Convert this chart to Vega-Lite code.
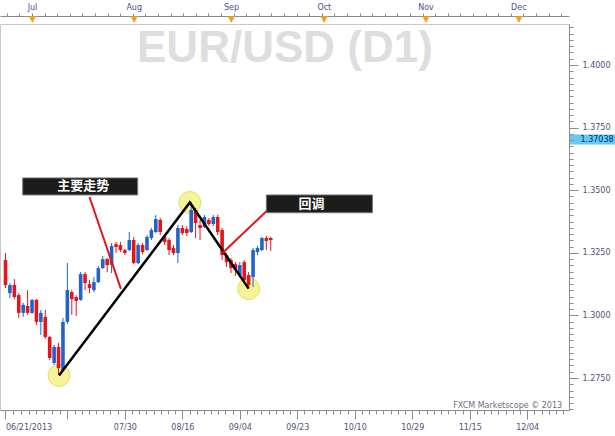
{
  "$schema": "https://vega.github.io/schema/vega-lite/v6.json",
  "width": 569,
  "height": 386,
  "autosize": {"type": "none"},
  "padding": {"left": 0, "top": 24, "right": 46, "bottom": 26},
  "background": "white",
  "view": {"stroke": "#c8c8c8", "strokeWidth": 1},
  "config": {"axis": {"labelFont": "DejaVu Sans", "grid": false, "title": null, "labelOverlap": false}},
  "datasets": {
    "candles": [
      {"d":"2013-06-21","i":0,"o":1.3221,"h":1.3249,"l":1.3109,"c":1.3121},
      {"d":"2013-06-24","i":1,"o":1.3089,"h":1.3129,"l":1.3069,"c":1.3121},
      {"d":"2013-06-25","i":2,"o":1.3121,"h":1.3145,"l":1.3065,"c":1.3073},
      {"d":"2013-06-26","i":3,"o":1.3081,"h":1.3089,"l":1.2990,"c":1.3010},
      {"d":"2013-06-27","i":4,"o":1.3010,"h":1.3050,"l":1.2994,"c":1.3042},
      {"d":"2013-06-28","i":5,"o":1.3038,"h":1.3101,"l":1.3002,"c":1.3010},
      {"d":"2013-07-01","i":6,"o":1.3010,"h":1.3065,"l":1.3006,"c":1.3062},
      {"d":"2013-07-02","i":7,"o":1.3062,"h":1.3065,"l":1.2962,"c":1.2974},
      {"d":"2013-07-03","i":8,"o":1.2974,"h":1.3022,"l":1.2922,"c":1.3010},
      {"d":"2013-07-04","i":9,"o":1.2994,"h":1.3022,"l":1.2906,"c":1.2914},
      {"d":"2013-07-05","i":10,"o":1.2914,"h":1.2918,"l":1.2822,"c":1.2830},
      {"d":"2013-07-08","i":11,"o":1.2810,"h":1.2882,"l":1.2802,"c":1.2874},
      {"d":"2013-07-09","i":12,"o":1.2874,"h":1.2890,"l":1.2762,"c":1.2790},
      {"d":"2013-07-10","i":13,"o":1.2782,"h":1.2990,"l":1.2774,"c":1.2974},
      {"d":"2013-07-11","i":14,"o":1.2974,"h":1.3209,"l":1.2966,"c":1.3101},
      {"d":"2013-07-12","i":15,"o":1.3093,"h":1.3101,"l":1.3002,"c":1.3065},
      {"d":"2013-07-15","i":16,"o":1.3073,"h":1.3081,"l":1.2998,"c":1.3058},
      {"d":"2013-07-16","i":17,"o":1.3062,"h":1.3173,"l":1.3058,"c":1.3165},
      {"d":"2013-07-17","i":18,"o":1.3165,"h":1.3173,"l":1.3101,"c":1.3129},
      {"d":"2013-07-18","i":19,"o":1.3125,"h":1.3141,"l":1.3089,"c":1.3109},
      {"d":"2013-07-19","i":20,"o":1.3101,"h":1.3153,"l":1.3093,"c":1.3133},
      {"d":"2013-07-22","i":21,"o":1.3133,"h":1.3197,"l":1.3129,"c":1.3189},
      {"d":"2013-07-23","i":22,"o":1.3189,"h":1.3237,"l":1.3185,"c":1.3225},
      {"d":"2013-07-24","i":23,"o":1.3225,"h":1.3229,"l":1.3173,"c":1.3201},
      {"d":"2013-07-25","i":24,"o":1.3201,"h":1.3289,"l":1.3169,"c":1.3277},
      {"d":"2013-07-26","i":25,"o":1.3285,"h":1.3293,"l":1.3249,"c":1.3273},
      {"d":"2013-07-29","i":26,"o":1.3281,"h":1.3293,"l":1.3253,"c":1.3261},
      {"d":"2013-07-30","i":27,"o":1.3261,"h":1.3265,"l":1.3241,"c":1.3249},
      {"d":"2013-07-31","i":28,"o":1.3261,"h":1.3333,"l":1.3257,"c":1.3301},
      {"d":"2013-08-01","i":29,"o":1.3301,"h":1.3313,"l":1.3205,"c":1.3209},
      {"d":"2013-08-02","i":30,"o":1.3209,"h":1.3289,"l":1.3205,"c":1.3281},
      {"d":"2013-08-05","i":31,"o":1.3281,"h":1.3289,"l":1.3245,"c":1.3253},
      {"d":"2013-08-06","i":32,"o":1.3261,"h":1.3321,"l":1.3257,"c":1.3313},
      {"d":"2013-08-07","i":33,"o":1.3309,"h":1.3349,"l":1.3301,"c":1.3341},
      {"d":"2013-08-08","i":34,"o":1.3333,"h":1.3401,"l":1.3329,"c":1.3385},
      {"d":"2013-08-09","i":35,"o":1.3381,"h":1.3389,"l":1.3321,"c":1.3333},
      {"d":"2013-08-12","i":36,"o":1.3313,"h":1.3321,"l":1.3281,"c":1.3293},
      {"d":"2013-08-13","i":37,"o":1.3301,"h":1.3309,"l":1.3241,"c":1.3261},
      {"d":"2013-08-14","i":38,"o":1.3269,"h":1.3281,"l":1.3241,"c":1.3249},
      {"d":"2013-08-15","i":39,"o":1.3249,"h":1.3361,"l":1.3209,"c":1.3349},
      {"d":"2013-08-16","i":40,"o":1.3349,"h":1.3361,"l":1.3321,"c":1.3329},
      {"d":"2013-08-19","i":41,"o":1.3345,"h":1.3357,"l":1.3317,"c":1.3329},
      {"d":"2013-08-20","i":42,"o":1.3333,"h":1.3453,"l":1.3329,"c":1.3421},
      {"d":"2013-08-21","i":43,"o":1.3421,"h":1.3429,"l":1.3309,"c":1.3369},
      {"d":"2013-08-22","i":44,"o":1.3361,"h":1.3381,"l":1.3301,"c":1.3349},
      {"d":"2013-08-23","i":45,"o":1.3353,"h":1.3401,"l":1.3349,"c":1.3393},
      {"d":"2013-08-26","i":46,"o":1.3381,"h":1.3389,"l":1.3357,"c":1.3365},
      {"d":"2013-08-27","i":47,"o":1.3365,"h":1.3401,"l":1.3357,"c":1.3393},
      {"d":"2013-08-28","i":48,"o":1.3393,"h":1.3401,"l":1.3321,"c":1.3333},
      {"d":"2013-08-29","i":49,"o":1.3341,"h":1.3349,"l":1.3221,"c":1.3241},
      {"d":"2013-08-30","i":50,"o":1.3241,"h":1.3249,"l":1.3193,"c":1.3213},
      {"d":"2013-09-02","i":51,"o":1.3221,"h":1.3229,"l":1.3169,"c":1.3189},
      {"d":"2013-09-03","i":52,"o":1.3205,"h":1.3213,"l":1.3157,"c":1.3181},
      {"d":"2013-09-04","i":53,"o":1.3161,"h":1.3213,"l":1.3153,"c":1.3201},
      {"d":"2013-09-05","i":54,"o":1.3213,"h":1.3221,"l":1.3133,"c":1.3141},
      {"d":"2013-09-06","i":55,"o":1.3161,"h":1.3173,"l":1.3109,"c":1.3121},
      {"d":"2013-09-09","i":56,"o":1.3153,"h":1.3269,"l":1.3113,"c":1.3261},
      {"d":"2013-09-10","i":57,"o":1.3253,"h":1.3277,"l":1.3241,"c":1.3269},
      {"d":"2013-09-11","i":58,"o":1.3261,"h":1.3313,"l":1.3257,"c":1.3309},
      {"d":"2013-09-12","i":59,"o":1.3309,"h":1.3317,"l":1.3261,"c":1.3297},
      {"d":"2013-09-13","i":60,"o":1.3309,"h":1.3313,"l":1.3257,"c":1.3301}
    ],
    "pivots": [
      {"i": 12.1, "p": 1.2760},
      {"i": 41.7, "p": 1.3451},
      {"i": 55.0, "p": 1.3107}
    ],
    "notes": [
      {"label": "主要走势", "x0": 3.9, "x1": 29.9, "y0": 1.3549, "y1": 1.3481, "tx": 17.6, "ty": 1.3515, "ax": 19.0, "ay": 1.3473, "bx": 26.1, "by": 1.3106},
      {"label": "回调", "x0": 59.0, "x1": 83.0, "y0": 1.3481, "y1": 1.3410, "tx": 69.2, "ty": 1.3445, "ax": 59.2, "ay": 1.3419, "bx": 49.2, "by": 1.3251}
    ]
  },
  "resolve": {"axis": {"x": "independent", "y": "independent"}},
  "layer": [
    {
      "data": {"values": [{"t": "EUR/USD (D1)"}]},
      "mark": {"type": "text", "font": "Liberation Sans", "fontWeight": "bold", "fontSize": 44, "fill": "#dedede", "align": "center", "baseline": "alphabetic"},
      "encoding": {
        "x": {"datum": 63.2, "type": "quantitative", "scale": {"domain": [-0.111, 126.33], "nice": false, "zero": false}, "axis": null},
        "y": {"datum": 1.4010, "type": "quantitative", "scale": {"domain": [1.262221, 1.416374], "nice": false, "zero": false}, "axis": null},
        "text": {"field": "t"}
      }
    },
    {
      "data": {"values": [{"t": "FXCM Marketscope © 2013"}]},
      "mark": {"type": "text", "font": "DejaVu Sans", "fontSize": 8, "fill": "#6e6e80", "align": "right", "baseline": "alphabetic"},
      "encoding": {
        "x": {"datum": 125.9, "type": "quantitative", "scale": {"domain": [-0.111, 126.33], "nice": false, "zero": false}, "axis": null},
        "y": {"datum": 1.2632, "type": "quantitative", "scale": {"domain": [1.262221, 1.416374], "nice": false, "zero": false}, "axis": null},
        "text": {"field": "t"}
      }
    },
    {
      "data": {"name": "pivots"},
      "mark": {"type": "point", "filled": true, "size": 480, "fill": "#f6f285", "fillOpacity": 0.85, "stroke": "#e3dc6a", "strokeWidth": 1},
      "encoding": {
        "x": {"field": "i", "type": "quantitative", "scale": {"domain": [-0.111, 126.33], "nice": false, "zero": false},
          "axis": {"orient": "top", "offset": 8, "values": [6, 29, 51, 72, 95, 116], "labelExpr": "['Jul','Aug','Sep','Oct','Nov','Dec'][indexof([6,29,51,72,95,116], datum.value)]", "ticks": false, "domain": false, "labelPadding": 5, "labelFontSize": 8, "labelColor": "#4d4d9e"}},
        "y": {"field": "p", "type": "quantitative", "scale": {"domain": [1.262221, 1.416374], "nice": false, "zero": false},
          "axis": {"orient": "right", "values": [1.37038], "format": ".5f", "domain": false, "tickSize": 46, "tickWidth": 10, "tickColor": "#66c9f2", "labelPadding": -35, "labelFontSize": 8, "labelColor": "#0d2f5c", "labelBaseline": "middle"}}
      }
    },
    {
      "data": {"name": "candles"},
      "mark": {"type": "rule", "strokeWidth": 1},
      "encoding": {
        "x": {"field": "i", "type": "quantitative", "scale": {"domain": [-0.111, 126.33], "nice": false, "zero": false},
          "axis": {"orient": "bottom", "values": [0, 14, 27, 40, 53, 66, 79, 92, 105, 118],
            "labelExpr": "datum.value==0?'06/21/2013':datum.value==27?'07/30':datum.value==40?'08/16':datum.value==53?'09/04':datum.value==66?'09/23':datum.value==79?'10/10':datum.value==92?'10/29':datum.value==105?'11/15':datum.value==118?'12/04':''",
            "labelAlign": {"condition": {"test": "datum.value == 0", "value": "left"}, "value": "center"},
            "tickSize": 9, "tickColor": "#8c8c8c", "domainColor": "#8c8c8c", "labelPadding": 4, "labelFontSize": 8, "labelColor": "#50507a"}},
        "y": {"field": "l", "type": "quantitative", "scale": {"domain": [1.262221, 1.416374], "nice": false, "zero": false},
          "axis": {"orient": "right", "values": [1.275, 1.3, 1.325, 1.35, 1.375, 1.4], "format": ".4f", "tickSize": 9, "tickColor": "#8c8c8c", "domainColor": "#8c8c8c", "labelPadding": 4, "labelFontSize": 8, "labelColor": "#50507a"}},
        "y2": {"field": "h"},
        "color": {"condition": {"test": "datum.c < datum.o", "value": "#e3161b"}, "value": "#1f64cc"}
      }
    },
    {
      "data": {"name": "candles"},
      "mark": {"type": "bar", "size": 3.6},
      "encoding": {
        "x": {"field": "i", "type": "quantitative", "scale": {"domain": [-0.111, 126.33], "nice": false, "zero": false},
          "axis": {"orient": "bottom", "values": [1.75, 3.5, 5.25, 7, 8.75, 10.5, 12.25, 15.625, 17.25, 18.875, 20.5, 22.125, 23.75, 25.375, 28.625, 30.25, 31.875, 33.5, 35.125, 36.75, 38.375, 41.625, 43.25, 44.875, 46.5, 48.125, 49.75, 51.375, 54.625, 56.25, 57.875, 59.5, 61.125, 62.75, 64.375, 67.625, 69.25, 70.875, 72.5, 74.125, 75.75, 77.375, 80.625, 82.25, 83.875, 85.5, 87.125, 88.75, 90.375, 93.625, 95.25, 96.875, 98.5, 100.125, 101.75, 103.375, 106.625, 108.25, 109.875, 111.5, 113.125, 114.75, 116.375, 119.625, 121.25, 122.875, 124.5, 126.125],
            "labels": false, "domain": false, "tickSize": 4, "tickColor": "#8c8c8c"}},
        "y": {"field": "o", "type": "quantitative", "scale": {"domain": [1.262221, 1.416374], "nice": false, "zero": false},
          "axis": {"orient": "right", "values": [1.2625,1.265,1.2675,1.27,1.2725,1.2775,1.28,1.2825,1.285,1.2875,1.29,1.2925,1.295,1.2975,1.3025,1.305,1.3075,1.31,1.3125,1.315,1.3175,1.32,1.3225,1.3275,1.33,1.3325,1.335,1.3375,1.34,1.3425,1.345,1.3475,1.3525,1.355,1.3575,1.36,1.3625,1.365,1.3675,1.37,1.3725,1.3775,1.38,1.3825,1.385,1.3875,1.39,1.3925,1.395,1.3975,1.4025,1.405,1.4075,1.41,1.4125,1.415],
            "labels": false, "domain": false, "tickSize": 4, "tickColor": "#8c8c8c"}},
        "y2": {"field": "c"},
        "color": {"condition": {"test": "datum.c < datum.o", "value": "#e3161b"}, "value": "#1f64cc"}
      }
    },
    {
      "data": {"name": "pivots"},
      "mark": {"type": "line", "stroke": "#000000", "strokeWidth": 2.5},
      "encoding": {
        "x": {"field": "i", "type": "quantitative", "scale": {"domain": [-0.111, 126.33], "nice": false, "zero": false},
          "axis": {"orient": "top", "offset": 8, "values": [0.3, 3.15, 6, 8.85, 11.7, 14.55, 17.4, 20.25, 23.1, 25.95, 28.8, 31.65, 34.5, 37.35, 40.2, 43.05, 45.9, 48.75, 51.6, 54.45, 57.3, 60.15, 63, 65.85, 68.7, 71.55, 74.4, 77.25, 80.1, 82.95, 85.8, 88.65, 91.5, 94.35, 97.2, 100.05, 102.9, 105.75, 108.6, 111.45, 114.3, 117.15, 120, 122.85, 125.7],
            "labels": false, "tickSize": 3, "tickColor": "#8c8c8c", "domainColor": "#8c8c8c"}},
        "y": {"field": "p", "type": "quantitative", "scale": {"domain": [1.262221, 1.416374], "nice": false, "zero": false}, "axis": null},
        "order": {"field": "i"}
      }
    },
    {
      "data": {"name": "notes"},
      "mark": {"type": "rule", "stroke": "#e3161b", "strokeWidth": 2},
      "encoding": {
        "x": {"field": "ax", "type": "quantitative", "scale": {"domain": [-0.111, 126.33], "nice": false, "zero": false},
          "axis": {"orient": "top", "offset": 8, "values": [6, 29, 51, 72, 95, 116], "labelExpr": "'▼'", "ticks": false, "domain": false, "labelPadding": 2, "labelBaseline": "top", "labelFontSize": 9, "labelColor": "#f0a020"}},
        "y": {"field": "ay", "type": "quantitative", "scale": {"domain": [1.262221, 1.416374], "nice": false, "zero": false}, "axis": null},
        "x2": {"field": "bx"},
        "y2": {"field": "by"}
      }
    },
    {
      "data": {"name": "notes"},
      "mark": {"type": "rect", "fill": "#1c1c1c", "stroke": "#777777", "strokeWidth": 1},
      "encoding": {
        "x": {"field": "x0", "type": "quantitative", "scale": {"domain": [-0.111, 126.33], "nice": false, "zero": false}, "axis": null},
        "x2": {"field": "x1"},
        "y": {"field": "y0", "type": "quantitative", "scale": {"domain": [1.262221, 1.416374], "nice": false, "zero": false}, "axis": null},
        "y2": {"field": "y1"}
      }
    },
    {
      "data": {"name": "notes"},
      "mark": {"type": "text", "font": "Noto Sans CJK SC", "fontWeight": "bold", "fontSize": 13, "fill": "#ffffff", "align": "center", "baseline": "middle"},
      "encoding": {
        "x": {"field": "tx", "type": "quantitative", "scale": {"domain": [-0.111, 126.33], "nice": false, "zero": false}, "axis": null},
        "y": {"field": "ty", "type": "quantitative", "scale": {"domain": [1.262221, 1.416374], "nice": false, "zero": false}, "axis": null},
        "text": {"field": "label"}
      }
    }
  ]
}
